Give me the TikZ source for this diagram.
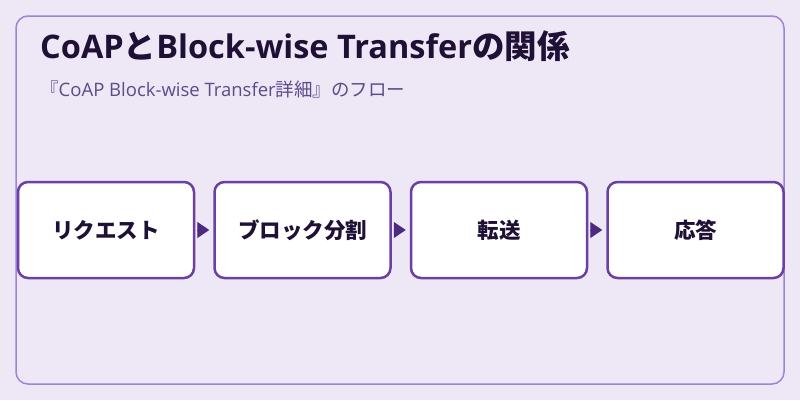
\documentclass[tikz,border=0pt]{standalone}
\usepackage{fontspec}
\setmainfont{Open Sans}
\newfontfamily\jp{Noto Sans CJK JP}
\usetikzlibrary{arrows.meta, positioning}
\definecolor{fondlavande}{HTML}{EEE7F6}
\definecolor{cadreviolet}{HTML}{A083D2}
\definecolor{boiteviolet}{HTML}{6B40A4}
\definecolor{flecheviolet}{HTML}{4B2A80}
\definecolor{titrenuit}{HTML}{1F1036}
\definecolor{soustitre}{HTML}{5C4C88}

\begin{document}
\begin{tikzpicture}[x=1pt, y=-1pt, >={Triangle[length=12pt, width=16pt]},
  etape/.style={draw=boiteviolet, line width=2.5pt, fill=white, rounded corners=10pt,
    minimum width=176pt, minimum height=96pt, inner sep=0pt,
    font=\jp\fontsize{21.5pt}{24pt}\selectfont\bfseries, text=titrenuit},
  fleche/.style={->, flecheviolet, line width=1pt, shorten <=2pt, shorten >=4pt}]

  % Fond et cadre
  \fill[fondlavande] (0,0) rectangle (800,400);
  \draw[cadreviolet, line width=1.5pt, rounded corners=12pt] (16,16) rectangle (784,384);

  % Titres
  \node[anchor=base west, inner sep=0pt, text=titrenuit, font=\fontsize{32.5pt}{36pt}\selectfont\bfseries]
    (titre) at (40,58) {CoAP{\jp と}Block-wise Transfer{\jp の関係}};
  \node[anchor=base west, inner sep=0pt, text=soustitre, font=\fontsize{18.5pt}{22pt}\selectfont]
    (soustitre) at (40,96) {{\jp『}CoAP Block-wise Transfer{\jp 詳細』のフロー}};

  % Etapes
  \node[etape] (requete) at (106,230) {リクエスト};
  \node[etape, right=18pt of requete] (bloc) {ブロック分割};
  \node[etape, right=18pt of bloc] (transfert) {転送};
  \node[etape, right=18pt of transfert] (reponse) {応答};

  % Fleches
  \draw[fleche] (requete) -- (bloc);
  \draw[fleche] (bloc) -- (transfert);
  \draw[fleche] (transfert) -- (reponse);

\end{tikzpicture}
\end{document}
